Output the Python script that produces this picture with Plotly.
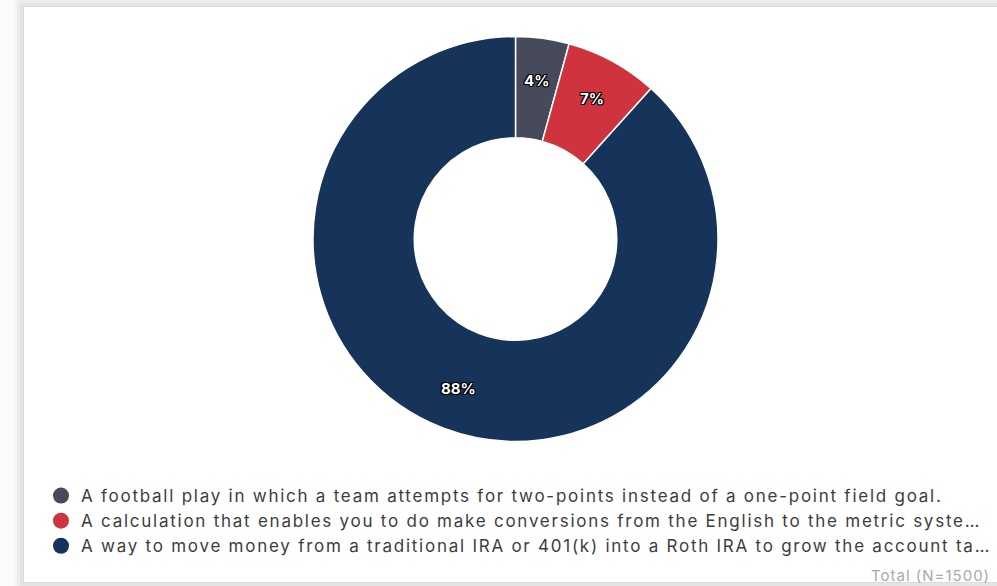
import math
import plotly.graph_objects as go

# Survey responses (N=1500)
answers = [
    "A football play in which a team attempts for two-points instead of a one-point field goal.",
    "A calculation that enables you to do make conversions from the English to the metric syste\u2026",
    "A way to move money from a traditional IRA or 401(k) into a Roth IRA to grow the account ta\u2026",
]
counts = [64, 111, 1325]
colors = ["#474a5b", "#cf343e", "#16335a"]
total_label = "Total (N=1500)"

W, H = 997, 586

# Donut geometry in pixels
cx, cy, R = 515.5, 239.0, 202.5
label_r = 160.0

fig = go.Figure()

fig.add_trace(go.Pie(
    labels=answers,
    values=counts,
    sort=False,
    direction="clockwise",
    rotation=0,
    hole=0.5,
    marker=dict(colors=colors, line=dict(color="white", width=1.5)),
    textinfo="none",
    hoverinfo="label+percent",
    showlegend=False,
    domain=dict(x=[(cx - R) / W, (cx + R) / W],
                y=[(H - cy - R) / H, (H - cy + R) / H]),
))

# Legend entries drawn with circle markers
for name, col in zip(answers, colors):
    fig.add_trace(go.Scatter(
        x=[None], y=[None], mode="markers",
        name=f'<span style="letter-spacing:1.75px">{name}</span>',
        marker=dict(symbol="circle", size=20, color=col),
        showlegend=True, hoverinfo="skip",
    ))

# Percentage labels placed at the middle angle of each slice
outline = ("1px 1px 0 #000, -1px -1px 0 #000, 1px -1px 0 #000, -1px 1px 0 #000, "
           "0 1px 0 #000, 0 -1px 0 #000, 1px 0 0 #000, -1px 0 0 #000")
annotations = []
tot = sum(counts)
cum = 0
for c in counts:
    mid = (cum + c / 2) / tot * 2 * math.pi
    cum += c
    px = cx + label_r * math.sin(mid)
    py = cy - label_r * math.cos(mid)
    annotations.append(dict(
        text=f"{round(100 * c / tot)}%", xref="paper", yref="paper",
        x=px / W, y=(H - py) / H, xanchor="center", yanchor="middle",
        showarrow=False,
        font=dict(family="Inter", size=15, color="white", weight="bold", shadow=outline),
    ))

annotations.append(dict(
    text=f'<span style="letter-spacing:1px">{total_label}</span>', xref="paper", yref="paper",
    x=992 / W, y=(H - 575) / H, xanchor="right", yanchor="middle",
    showarrow=False, font=dict(family="Inter", size=15, color="#a9a9a9"),
))

# Card background with a soft shadow
shapes = []
for i, op in enumerate([0.025, 0.03, 0.035, 0.04]):
    g = 10 - i * 3
    shapes.append(dict(type="rect", xref="paper", yref="paper", layer="below",
                       x0=(24 - g) / W, x1=(W + 20) / W, y0=(H - 582 - g) / H, y1=(H - 7 + g) / H,
                       fillcolor=f"rgba(0,0,0,{op})", line=dict(width=0)))
shapes.append(dict(type="rect", xref="paper", yref="paper", layer="below",
                   x0=24 / W, x1=(W + 20) / W, y0=(H - 582) / H, y1=(H - 7) / H,
                   fillcolor="white", line=dict(width=0)))

fig.update_layout(
    width=W, height=H,
    margin=dict(l=0, r=0, t=0, b=0),
    paper_bgcolor="#fbfbfb",
    plot_bgcolor="rgba(0,0,0,0)",
    xaxis=dict(visible=False, domain=[0, 1], range=[0, 1]),
    yaxis=dict(visible=False, domain=[0, 1], range=[0, 1]),
    shapes=shapes,
    showlegend=True,
    legend=dict(
        x=41 / W, y=(H - 478) / H, xanchor="left", yanchor="top",
        bgcolor="rgba(0,0,0,0)",
        font=dict(family="Inter", size=17, color="#3d3d3d"),
        itemsizing="trace",
        tracegroupgap=0,
    ),
    annotations=annotations,
)

fig.write_html("out.html")
